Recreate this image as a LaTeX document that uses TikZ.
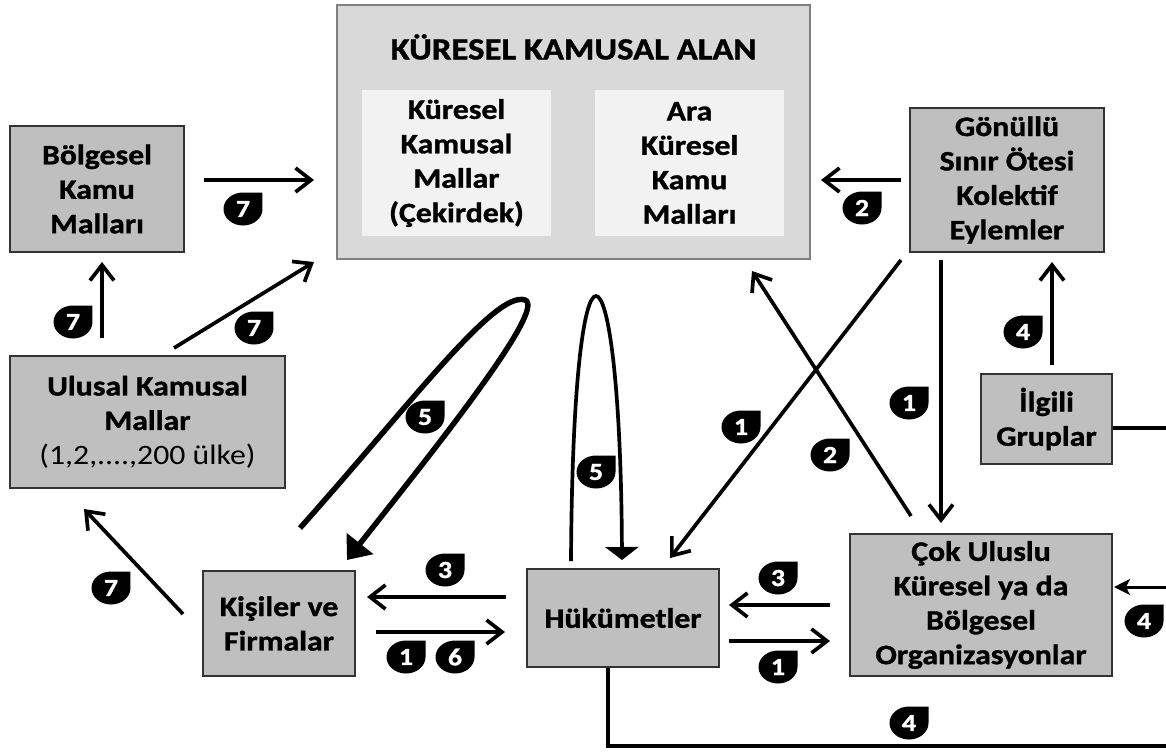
\documentclass[tikz,border=0pt]{standalone}
\usepackage{fontspec}
\setmainfont{Carlito}[FakeStretch=1.13, BoldFeatures={FakeBold=1.2}]
\usetikzlibrary{arrows.meta}
\definecolor{boxfill}{HTML}{BFBFBF}
\definecolor{boxline}{HTML}{333333}
\definecolor{bigfill}{HTML}{D9D9D9}
\definecolor{bigline}{HTML}{808080}
\definecolor{innerfill}{HTML}{F2F2F2}
\newcommand{\boxfont}{\fontsize{16}{19.6}\selectfont\bfseries}
\newcommand{\badgefont}{\fontsize{14}{14}\selectfont\bfseries}
\tikzset{
  gbox/.style={draw=boxline, fill=boxfill, line width=1.3pt, inner sep=0pt, align=center, font=\boxfont},
  bigbox/.style={draw=bigline, fill=bigfill, line width=0.7pt, inner sep=0pt},
  innerbox/.style={fill=innerfill, inner sep=0pt, align=center, font=\boxfont, minimum width=3.78cm, minimum height=2.92cm},
  arr/.style={line width=2.1pt, -{Straight Barb[length=3.1mm,width=4.8mm,line width=2.1pt]}},
  plain/.style={line width=2.1pt},
  loopA/.style={line width=3.1pt, -{Triangle[length=4.2mm,width=6.6mm]}},
  loopB/.style={line width=2.1pt, -{Triangle[length=2.6mm,width=6.6mm]}},
  thinarr/.style={line width=1.7pt, -{Stealth[length=3.2mm,width=3.2mm,inset=0.8mm]}},
  pics/badge/.style={code={
    \fill (0cm,0.33cm) -- (0.39cm,0.33cm) -- (0.39cm,0cm)
      arc[start angle=0,end angle=-270,x radius=0.39cm,y radius=0.33cm] -- cycle;
    \node[text=white, font=\badgefont, inner sep=0pt] (-t) at (0,0) {#1};
  }}
}
\begin{document}
\begin{tikzpicture}[x=0.02cm, y=-0.02cm]
\useasboundingbox (0,0) rectangle (1166,751);

% main area
\node[bigbox, minimum width=9.46cm, minimum height=5.08cm] (big) at (573.5,132) {};
\node[font=\fontsize{17.5}{20}\selectfont\bfseries] (title) at (573.5,47) {KÜRESEL KAMUSAL ALAN};
\node[innerbox] (inL) at (456.5,163) {Küresel\\Kamusal\\Mallar\\(Çekirdek)};
\node[innerbox] (inR) at (689.5,163) {Ara\\Küresel\\Kamu\\Malları};

% boxes
\node[gbox, minimum width=3.48cm, minimum height=2.52cm] (bol) at (97,189) {Bölgesel\\Kamu\\Malları};
\node[gbox, minimum width=3.88cm, minimum height=2.88cm] (gon) at (1007,180) {Gönüllü\\Sınır Ötesi\\Kolektif\\Eylemler};
\node[gbox, minimum width=5.5cm, minimum height=2.64cm] (ulu) at (147.5,422) {Ulusal Kamusal\\Mallar\\{\mdseries (1,2,....,200 ülke)}};
\node[gbox, minimum width=3.04cm, minimum height=2.1cm] (kis) at (279,623.5) {Kişiler ve\\Firmalar};
\node[gbox, minimum width=3.84cm, minimum height=1.96cm] (huk) at (623,618) {Hükümetler};
\node[gbox, minimum width=5.24cm, minimum height=2.84cm] (cok) at (981,605) {Çok Uluslu\\Küresel ya da\\Bölgesel\\Organizasyonlar};
\node[gbox, minimum width=2.62cm, minimum height=1.8cm] (ilg) at (1046.5,419) {İlgili\\Gruplar};

% connector end points
\coordinate (a1s) at (204,180);  \coordinate (a1e) at (314,180);
\coordinate (a2s) at (102,338);  \coordinate (a2e) at (102,262);
\coordinate (a3s) at (174,348);  \coordinate (a3e) at (314,262);
\coordinate (a4s) at (183,614);  \coordinate (a4e) at (84,509);
\coordinate (a5s) at (901,180);  \coordinate (a5e) at (821,180);
\coordinate (a6s) at (901,260);  \coordinate (a6e) at (670,558);
\coordinate (a7s) at (911,516);  \coordinate (a7e) at (752,271);
\coordinate (a8s) at (941,260);  \coordinate (a8e) at (941,523);
\coordinate (a9s) at (1052,365); \coordinate (a9e) at (1052,262);
\coordinate (edgeA) at (1166,428);
\coordinate (edgeB) at (1166,587); \coordinate (a11e) at (1114,587);
\coordinate (c12a) at (608,746); \coordinate (edgeC) at (1166,746);
\coordinate (a13s) at (506,597); \coordinate (a13e) at (367,597);
\coordinate (a14s) at (376,632); \coordinate (a14e) at (505,632);
\coordinate (a15s) at (830,605); \coordinate (a15e) at (729,605);
\coordinate (a16s) at (729,641); \coordinate (a16e) at (830,641);
\coordinate (lAs) at (300,528); \coordinate (lAt) at (525,300); \coordinate (lAe) at (347,560);
\coordinate (lBs) at (571,561); \coordinate (lBt) at (596,296); \coordinate (lBe) at (622,560);

% connectors
\draw[arr] (a1s) -- (a1e);
\draw[arr] (a2s) -- (a2e);
\draw[arr] (a3s) -- (a3e);
\draw[arr] (a4s) -- (a4e);
\draw[arr] (a5s) -- (a5e);
\draw[arr] (a6s) -- (a6e);
\draw[arr] (a7s) -- (a7e);
\draw[arr] (a8s) -- (a8e);
\draw[arr] (a9s) -- (a9e);
\draw[plain] (ilg.east |- edgeA) -- (edgeA);
\draw[thinarr] (edgeB) -- (a11e);
\draw[plain, line width=2.3pt] (huk.south -| c12a) -- (c12a) -- (edgeC);
\draw[arr] (a13s) -- (a13e);
\draw[arr] (a14s) -- (a14e);
\draw[arr] (a15s) -- (a15e);
\draw[arr] (a16s) -- (a16e);
\draw[loopA] (lAs) .. controls (410,405) and (495,290) .. (lAt) .. controls (548,308) and (430,455) .. (lAe);
\draw[loopB] (lBs) .. controls (572,380) and (584,296) .. (lBt) .. controls (608,296) and (621,380) .. (lBe);

% badges
\pic (b1) at (243,209) {badge=7};
\pic (b2) at (73,322) {badge=7};
\pic (b3) at (254,328) {badge=7};
\pic (b4) at (111,588) {badge=7};
\pic (b5) at (862,208) {badge=2};
\pic (b6) at (741,427) {badge=1};
\pic (b7) at (830,455) {badge=2};
\pic (b8) at (909,403) {badge=1};
\pic (b9) at (1023,332) {badge=4};
\pic (b10) at (1144,621) {badge=4};
\pic (b11) at (909,723) {badge=4};
\pic (b12) at (445,570) {badge=3};
\pic (b13) at (406,657) {badge=1};
\pic (b14) at (455,657) {badge=6};
\pic (b15) at (778,578) {badge=3};
\pic (b16) at (778,667) {badge=1};
\pic (b17) at (425,417) {badge=5};
\pic (b18) at (596,472) {badge=5};
\end{tikzpicture}
\end{document}
